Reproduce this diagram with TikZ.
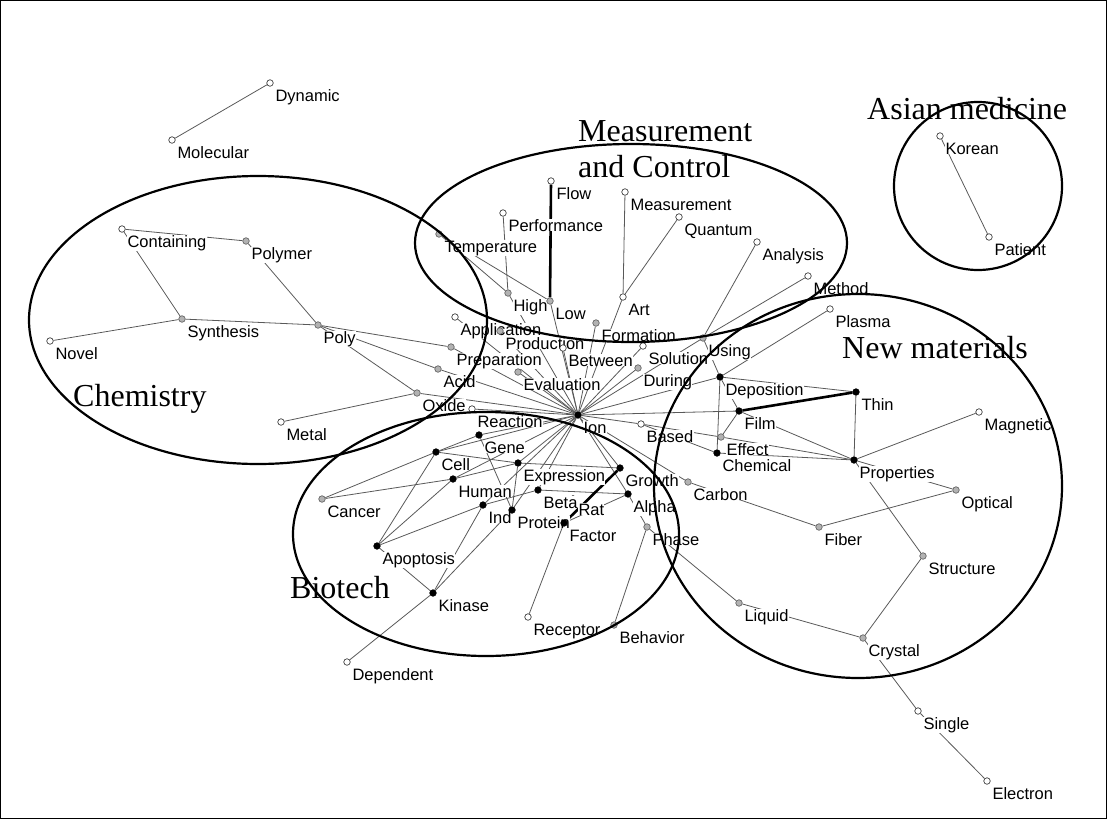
\documentclass[tikz,border=0pt]{standalone}
\usepackage{fontspec}
\setmainfont{Liberation Sans}
\newfontfamily\serifttl{Liberation Serif}
\pgfdeclarelayer{marks}
\pgfdeclarelayer{rings}
\pgfsetlayers{main,marks,rings}
\tikzset{
 mkbase/.style={circle,inner sep=0pt,minimum size=6.5pt,line width=0.7pt},
 wm/.style={mkbase,draw=black!75,fill=white},
 gm/.style={mkbase,draw=black!60,fill=black!30},
 bm/.style={mkbase,draw=black,fill=black},
 edge/.style={draw=black!65,line width=0.8pt},
 heavy/.style={draw=black,line width=2.6pt},
 lab/.style={anchor=base west,fill=white,inner sep=0.3pt,font=\fontsize{16.5}{18}\selectfont},
 ttl/.style={anchor=base west,inner sep=0pt,font=\serifttl\fontsize{32}{36}\selectfont},
 ring/.style={draw=black,line width=2.2pt}
}
\newcommand\kw[4]{\node[#4] (#1) at (#2,#3) {};}
\newcommand\lbl[2]{\node[lab] (#1-l) at ([shift={(5,18)}]#1) {#2};}
\begin{document}
\begin{tikzpicture}[x=1pt,y=-1pt]
\useasboundingbox (0,0) rectangle (1107,819);
\draw[line width=1.2pt] (0.6,0.6) rectangle (1106.4,818.4);
% hidden marker (covered by the Beta label)
\kw{Rat}{573}{499}{bm}
\begin{pgfonlayer}{marks}
\kw{Dynamic}{270}{83}{wm}
\kw{Molecular}{172}{140}{wm}
\kw{Containing}{122}{229}{wm}
\kw{Polymer}{246}{241}{gm}
\kw{Synthesis}{182}{319}{gm}
\kw{Novel}{50}{341}{wm}
\kw{Poly}{318}{325}{gm}
\kw{Metal}{281}{422}{wm}
\kw{Oxide}{417}{393}{gm}
\kw{Acid}{438}{369}{gm}
\kw{Preparation}{451}{347}{gm}
\kw{Application}{455}{317}{wm}
\kw{Temperature}{439}{234}{gm}
\kw{Flow}{551}{181}{wm}
\kw{Performance}{503}{213}{wm}
\kw{High}{508}{293}{gm}
\kw{Low}{550}{301}{gm}
\kw{Measurement}{625}{192}{wm}
\kw{Quantum}{679}{217}{wm}
\kw{Art}{623}{297}{wm}
\kw{Formation}{596}{323}{gm}
\kw{Analysis}{757}{242}{wm}
\kw{Method}{808}{276}{wm}
\kw{Plasma}{830}{309}{wm}
\kw{Using}{703}{338}{gm}
\kw{Production}{500}{331}{gm}
\kw{Between}{563}{348}{wm}
\kw{Evaluation}{518}{372}{gm}
\kw{Solution}{643}{346}{wm}
\kw{During}{638}{368}{gm}
\kw{Based}{641}{424}{wm}
\kw{Reaction}{472}{409}{wm}
\kw{Ion}{578}{415}{bm}
\kw{Gene}{479}{435}{bm}
\kw{Cell}{436}{452}{bm}
\kw{Expression}{518}{463}{bm}
\kw{Human}{453}{479}{bm}
\kw{Beta}{538}{490}{bm}
\kw{Growth}{620}{468}{bm}
\kw{Alpha}{628}{494}{bm}
\kw{Ind}{483}{505}{bm}
\kw{Protein}{512}{510}{bm}
\kw{Factor}{564}{523}{bm}
\kw{Cancer}{322}{499}{gm}
\kw{Apoptosis}{377}{546}{bm}
\kw{Kinase}{433}{593}{bm}
\kw{Dependent}{347}{662}{wm}
\kw{Receptor}{528}{617}{wm}
\kw{Behavior}{614}{625}{gm}
\kw{Phase}{647}{527}{gm}
\kw{Liquid}{739}{603}{gm}
\kw{Crystal}{863}{638}{gm}
\kw{Structure}{923}{556}{gm}
\kw{Single}{918}{711}{wm}
\kw{Electron}{987}{781}{wm}
\kw{Fiber}{819}{527}{gm}
\kw{Optical}{956}{490}{gm}
\kw{Carbon}{688}{482}{gm}
\kw{Properties}{854}{460}{bm}
\kw{Magnetic}{979}{412}{wm}
\kw{Thin}{856}{392}{bm}
\kw{Effect}{721}{437}{gm}
\kw{Chemical}{717}{453}{bm}
\kw{Film}{739}{411}{bm}
\kw{Deposition}{720}{377}{bm}
\kw{Korean}{940}{136}{wm}
\kw{Patient}{989}{237}{wm}
\end{pgfonlayer}
% thin edges
\foreach \a/\b in {Dynamic/Molecular,Korean/Patient,
 Containing/Synthesis,Containing/Polymer,Polymer/Poly,Novel/Synthesis,Synthesis/Poly,
 Poly/Preparation,Poly/Acid,Poly/Oxide,Metal/Oxide,
 Temperature/High,Temperature/Low,Performance/High,Measurement/Art,Quantum/Art,Art/Ion,
 Analysis/Using,Method/Using,Using/Ion,Using/Deposition,Plasma/Deposition,
 Ion/Application,Ion/Production,Ion/Preparation,Ion/Acid,Ion/Oxide,Ion/Reaction,
 Ion/Evaluation,Ion/Between,Ion/High,Ion/Low,Ion/Formation,Ion/Solution,Ion/During,
 Ion/Deposition,Ion/Film,Ion/Based,Ion/Carbon,Ion/Growth,Ion/Alpha,Ion/Beta,
 Ion/Expression,Ion/Gene,Ion/Cell,Ion/Human,Ion/Ind,Ion/Protein,
 Deposition/Thin,Deposition/Film,Deposition/Chemical,Thin/Properties,Film/Properties,
 Effect/Properties,Chemical/Properties,Magnetic/Properties,Properties/Optical,
 Properties/Structure,Structure/Crystal,Liquid/Crystal,Crystal/Single,Single/Electron,
 Phase/Liquid,Carbon/Fiber,Fiber/Optical,Film/Effect,Based/Effect,Based/Chemical,
 Gene/Cell,Cell/Expression,Human/Expression,Gene/Protein,Cancer/Cell,Cancer/Human,
 Apoptosis/Cell,Apoptosis/Human,Apoptosis/Ind,Apoptosis/Kinase,Kinase/Ind,Kinase/Protein,
 Kinase/Dependent,Expression/Growth,Beta/Alpha,Factor/Receptor,Alpha/Phase,
 Phase/Behavior,Alpha/Factor,Expression/Protein,Ind/Beta}
 {\draw[edge] (\a) -- (\b);}
% heavy edges
\draw[heavy] (Flow) -- (Low);
\draw[heavy] (Film) -- (Thin);
\draw[heavy] (Growth) -- (Factor);
% labels
\foreach \n in {Dynamic,Molecular,Containing,Polymer,Synthesis,Novel,Poly,Metal,Oxide,Acid,
 Preparation,Application,Temperature,Flow,Performance,High,Low,Measurement,Quantum,Art,
 Formation,Analysis,Method,Plasma,Using,Production,Between,Evaluation,Solution,During,
 Based,Reaction,Ion,Gene,Cell,Expression,Human,Beta,Growth,Alpha,Ind,Protein,Factor,
 Cancer,Apoptosis,Kinase,Dependent,Receptor,Behavior,Phase,Liquid,Crystal,Structure,
 Single,Electron,Fiber,Optical,Carbon,Properties,Magnetic,Thin,Effect,Chemical,Film,
 Deposition,Korean,Patient}
 {\lbl{\n}{\n}}
\node[lab] (Rat-l) at ([shift={(5,16)}]Rat) {Rat};
% cluster titles
\node[ttl] (tChem) at (73,406) {Chemistry};
\node[ttl] (tBio) at (290,598) {Biotech};
\node[ttl] (tNew) at (842,358) {New materials};
\node[ttl] (tAsia) at (867,119) {Asian medicine};
\node[ttl] (tMeas1) at (578,141) {Measurement};
\node[ttl] (tMeas2) at (578,177) {and Control};
\begin{pgfonlayer}{rings}
\draw[ring] (258,320) ellipse [x radius=229pt, y radius=144pt];
\draw[ring] (631,243) ellipse [x radius=216pt, y radius=99pt];
\draw[ring] (486,534) ellipse [x radius=193pt, y radius=122pt];
\draw[ring] (858,486) ellipse [x radius=204pt, y radius=192pt];
\draw[ring] (978,186) circle [radius=84pt];
\end{pgfonlayer}
\end{tikzpicture}
\end{document}
